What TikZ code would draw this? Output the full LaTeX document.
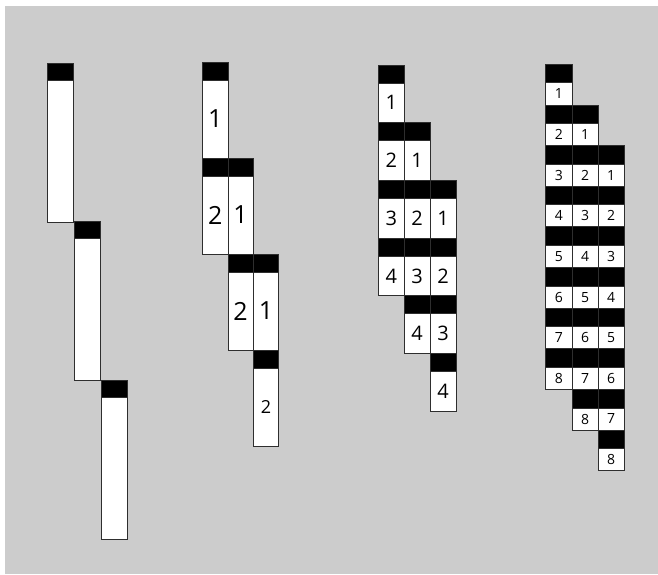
\documentclass[tikz,border=0pt]{standalone}
\usepackage{fontspec}
\setmainfont{Open Sans}
\usepackage{xcolor}
\usepackage{tikz}
\usetikzlibrary{positioning}
\definecolor{canvas}{HTML}{CCCCCC}
\definecolor{edge}{HTML}{2E2E2E}
\newcommand{\taskslot}[8]{%
    % #1=label style, #2=name, #3=x, #4=y, #5=width, #6=height, #7=head, #8=label
    \draw[slotline, fill=white] ({#3},{#4}) rectangle ++(#5,#6);
    \draw[slotline, fill=black] ({#3},{#4}) rectangle ++(#5,#7);
    \node[#1] (#2) at ({#3+#5/2}, {#4+#7/2+#6/2}) {#8};
}

\begin{document}
\begin{tikzpicture}[x=1pt, y=-1pt,
    slotline/.style={draw=edge, line width=0.8pt},
    bigdigit/.style={inner sep=0pt, font=\fontsize{25}{25}\selectfont},
    middigit/.style={inner sep=0pt, font=\fontsize{20}{20}\selectfont},
    smalldigit/.style={inner sep=0pt, font=\fontsize{14}{14}\selectfont},
    lastdigit/.style={inner sep=0pt, font=\fontsize{18}{18}\selectfont}
]
    \useasboundingbox (0,0) rectangle (658,574);
    \fill[canvas] (5,6) rectangle (658,574);

    % one stage at a time
    \taskslot{bigdigit}{a1}{47}{63}{26}{159}{17}{}
    \taskslot{bigdigit}{a2}{74.4}{221.5}{26}{159}{17}{}
    \taskslot{bigdigit}{a3}{101.8}{380}{26}{159}{17}{}

    % two items
    \taskslot{bigdigit}{b10}{202.5}{62}{25.4}{96}{18}{1}
    \taskslot{bigdigit}{b20}{202.5}{158}{25.4}{96}{18}{2}
    \taskslot{bigdigit}{b21}{227.9}{158}{25.4}{96}{18}{1}
    \taskslot{bigdigit}{b31}{227.9}{254}{25.4}{96}{18}{2}
    \taskslot{bigdigit}{b32}{253.3}{254}{25.4}{96}{18}{1}
    \taskslot{lastdigit}{b42}{253.3}{350}{25.4}{96}{18}{2}

    % four items
    \foreach \r in {1,...,6} {
        \foreach \c in {0,1,2} {
            \pgfmathtruncatemacro{\k}{\r-\c}
            \ifnum\k>0 \ifnum\k<5
                \taskslot{middigit}{c\r\c}{378.3+25.9*\c}{65+57.7*(\r-1)}{25.9}{57.7}{18}{\k}
            \fi\fi
        }
    }

    % eight items
    \foreach \r in {1,...,10} {
        \foreach \c in {0,1,2} {
            \pgfmathtruncatemacro{\k}{\r-\c}
            \ifnum\k>0 \ifnum\k<9
                \taskslot{smalldigit}{d\r\c}{545.7+26.2*\c}{64.3+40.64*(\r-1)}{26.2}{40.64}{18.5}{\k}
            \fi\fi
        }
    }
\end{tikzpicture}
\end{document}
